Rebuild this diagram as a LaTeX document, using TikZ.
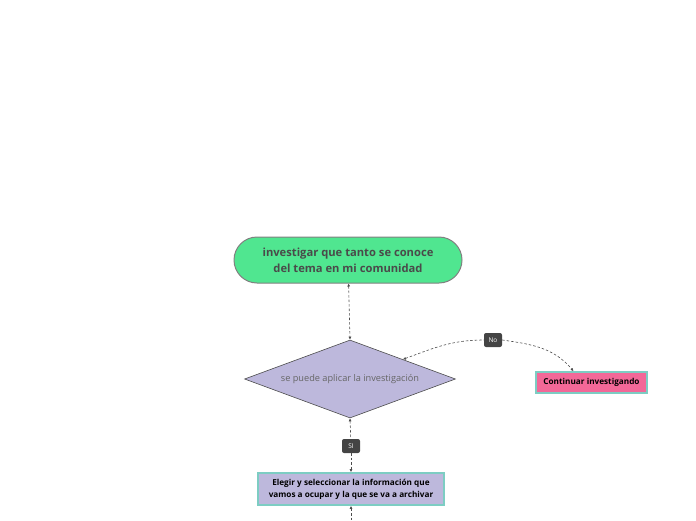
\documentclass[tikz,border=0pt]{standalone}
\usepackage{fontspec}
\setmainfont{Open Sans}
\usetikzlibrary{shapes.geometric,arrows.meta,positioning}
\definecolor{topgreen}{RGB}{80,230,144}
\definecolor{lavender}{RGB}{189,184,220}
\definecolor{rosa}{RGB}{243,104,152}
\definecolor{teal}{RGB}{125,205,195}
\definecolor{textgray}{RGB}{74,74,74}
\definecolor{tagfill}{RGB}{68,68,68}
\tikzset{
  tip/.tip={Latex[length=3pt,width=3pt]},
  link/.style={draw=black!70, line width=0.6pt, dash pattern=on 2.5pt off 2pt},
  tag/.style={fill=tagfill, text=white, rounded corners=2pt, font=\fontsize{6.5}{7}\selectfont,
    minimum width=18pt, minimum height=14pt, inner sep=1pt},
  topic/.style={draw=teal, line width=1.6pt, font=\bfseries\fontsize{8.2}{12}\selectfont,
    align=center, inner sep=2pt}
}
\begin{document}
\begin{tikzpicture}[x=1pt, y=-1pt]
\useasboundingbox (0,0) rectangle (696,520);
\node(tema) [draw=black!50, line width=1pt, fill=topgreen, rounded corners=23pt,
  minimum width=228pt, minimum height=46pt, align=center, text=textgray,
  font=\bfseries\fontsize{11.2}{16}\selectfont] at (348,260)
  {investigar que tanto se conoce\\del tema en mi comunidad};
\node(dec) [diamond, draw=black!70, line width=0.6pt, fill=lavender, inner sep=0pt,
  minimum width=211pt, minimum height=78pt, shape aspect=2.7, text=black!60,
  font=\fontsize{9.2}{11}\selectfont] at (350,379) {se puede aplicar la investigación};
\node(no) [tag] at (493,340) {No};
\node(cont) [topic, fill=rosa, minimum width=111pt, minimum height=21pt,
  text=black] at (591.5,382.5) {Continuar investigando};
\node(si) [tag] at (351,446) {SI};
\node(elegir) [topic, fill=lavender, minimum width=186pt, minimum height=32pt,
  text=black] at (351,489)
  {Elegir y seleccionar la información que\\vamos a ocupar y la que se va a archivar};
\coordinate(fin) at (351,530);
\draw[link, tip-tip] (tema) -- (dec.north);
\draw[link, tip-] (dec.north east) to[out=20, in=180] (no.west);
\draw[link, -tip] (no.east) to[out=-8, in=130] ([xshift=-18pt]cont.north);
\draw[link, tip-] (dec.south) -- (si);
\draw[link, -tip] (si) -- (elegir);
\draw[link, tip-] (elegir) -- (fin);
\end{tikzpicture}
\end{document}
